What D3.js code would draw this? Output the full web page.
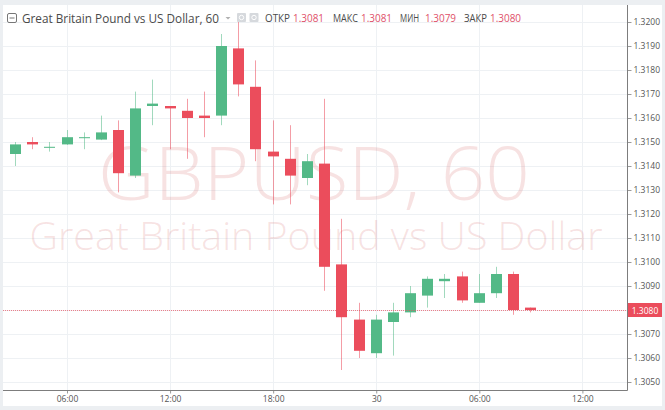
<!DOCTYPE html>
<html>
<head>
<meta charset="utf-8">
<title>GBPUSD, 60</title>
<script src="https://d3js.org/d3.v7.min.js"></script>
<style>
  body { margin: 0; background: #eceff2; }
  svg { display: block; }
</style>
</head>
<body>
<script>
    // hourly candles, 29th 03:00 .. 30th 09:00
    const times = [
        "2018-08-29T03:00", "2018-08-29T04:00", "2018-08-29T05:00", "2018-08-29T06:00",
        "2018-08-29T07:00", "2018-08-29T08:00", "2018-08-29T09:00", "2018-08-29T10:00",
        "2018-08-29T11:00", "2018-08-29T12:00", "2018-08-29T13:00", "2018-08-29T14:00",
        "2018-08-29T15:00", "2018-08-29T16:00", "2018-08-29T17:00", "2018-08-29T18:00",
        "2018-08-29T19:00", "2018-08-29T20:00", "2018-08-29T21:00", "2018-08-29T22:00",
        "2018-08-29T23:00", "2018-08-30T00:00", "2018-08-30T01:00", "2018-08-30T02:00",
        "2018-08-30T03:00", "2018-08-30T04:00", "2018-08-30T05:00", "2018-08-30T06:00",
        "2018-08-30T07:00", "2018-08-30T08:00", "2018-08-30T09:00"
    ]
    const open  = [1.3145, 1.3150, 1.3148, 1.3149, 1.3152, 1.3151, 1.3155, 1.3136,
                   1.3165, 1.3165, 1.3163, 1.3161, 1.3161, 1.3189, 1.3173, 1.3146,
                   1.3143, 1.3135, 1.3141, 1.3099, 1.3076, 1.3062, 1.3075, 1.3079,
                   1.3086, 1.3092, 1.3094, 1.3083, 1.3087, 1.3095, 1.3081]
    const high  = [1.3150, 1.3152, 1.3150, 1.3155, 1.3154, 1.3161, 1.3159, 1.3171,
                   1.3176, 1.3165, 1.3168, 1.3171, 1.3195, 1.3201, 1.3184, 1.3159,
                   1.3157, 1.3145, 1.3168, 1.3118, 1.3083, 1.3078, 1.3083, 1.3090,
                   1.3094, 1.3095, 1.3096, 1.3095, 1.3098, 1.3096, 1.3081]
    const low   = [1.3140, 1.3147, 1.3146, 1.31488, 1.3147, 1.31508, 1.3129, 1.3135,
                   1.3157, 1.3147, 1.3143, 1.3152, 1.3157, 1.3169, 1.3142, 1.3124,
                   1.3124, 1.3132, 1.3088, 1.3055, 1.3060, 1.3060, 1.3061, 1.3077,
                   1.3081, 1.3085, 1.3083, 1.3083, 1.3085, 1.3078, 1.3079]
    const close = [1.3149, 1.3149, 1.3148, 1.3152, 1.3152, 1.3154, 1.3137, 1.3164,
                   1.3166, 1.3164, 1.3160, 1.3160, 1.3190, 1.3174, 1.3147, 1.3144,
                   1.3136, 1.3142, 1.3098, 1.3077, 1.3063, 1.3076, 1.3079, 1.3087,
                   1.3093, 1.3093, 1.3084, 1.3087, 1.3095, 1.3080, 1.3080]
    const priceTicks = [1.3050, 1.3060, 1.3070, 1.3080, 1.3090, 1.3100, 1.3110, 1.3120,
                        1.3130, 1.3140, 1.3150, 1.3160, 1.3170, 1.3180, 1.3190, 1.3200]
    const lastPrice = 1.3080
    const legendLabels = ["ОТКР", "МАКС", "МИН", "ЗАКР"]
    const legendValues = ["1.3081", "1.3081", "1.3079", "1.3080"]

    const W = 665, H = 410
    const plotLeft = 3, plotRight = 627, plotTop = 5, plotBottom = 390
    const up = '#53b987', down = '#eb4d5c'
    const font = '"Open Sans", "DejaVu Sans", sans-serif'

    const parse = d3.utcParse('%Y-%m-%dT%H:%M')
    const candles = times.map((t, i) => ({
        date: parse(t), o: open[i], h: high[i], l: low[i], c: close[i]
    }))

    const svg = d3.select('body').append('svg')
        .attr('width', W)
        .attr('height', H)

    svg.append('rect').attr('width', W).attr('height', H).attr('fill', '#eceff2')
    svg.append('rect')
        .attr('x', plotLeft).attr('y', plotTop)
        .attr('width', 659).attr('height', 401)
        .attr('fill', '#fff')

    // one hour = 17.18px, 06:00 sits at x=67
    const hourPx = 17.18
    const x = d3.scaleUtc()
        .domain([parse('2018-08-29T06:00'), parse('2018-08-29T07:00')])
        .range([67, 67 + hourPx])
    x.domain([x.invert(plotLeft), x.invert(plotRight)]).range([plotLeft, plotRight])

    const y = d3.scaleLinear()
        .domain([1.3050, 1.3200])
        .range([382, 22])

    const timeTicks = x.ticks(d3.utcHour.every(6))
    const fmtTime = d => d.getUTCHours() === 0 ? d3.utcFormat('%-d')(d) : d3.utcFormat('%H:%M')(d)

    // grid
    const grid = svg.append('g').attr('stroke', '#eef1f4').attr('stroke-width', 1)
    grid.selectAll('.hg').data(priceTicks).enter().append('line')
        .attr('x1', plotLeft).attr('x2', plotRight)
        .attr('y1', d => Math.round(y(d)) + 0.5).attr('y2', d => Math.round(y(d)) + 0.5)
    grid.selectAll('.vg').data(timeTicks).enter().append('line')
        .attr('x1', d => Math.round(x(d)) + 0.5).attr('x2', d => Math.round(x(d)) + 0.5)
        .attr('y1', plotTop).attr('y2', plotBottom)

    // watermark
    const wm = svg.append('g')
        .attr('fill', 'rgba(215,110,110,0.2)')
        .attr('font-family', font)
        .attr('font-weight', 300)
        .attr('text-anchor', 'middle')
    wm.append('text')
        .attr('x', 314).attr('y', 200)
        .attr('font-size', 74)
        .attr('textLength', 432)
        .attr('lengthAdjust', 'spacingAndGlyphs')
        .text('GBPUSD, 60')
    wm.append('text')
        .attr('x', 316).attr('y', 250)
        .attr('font-size', 39)
        .attr('textLength', 573)
        .attr('lengthAdjust', 'spacingAndGlyphs')
        .text('Great Britain Pound vs US Dollar')

    // candles
    const bodyW = 11
    const g = svg.append('g')
    const candle = g.selectAll('.candle').data(candles).enter().append('g')
        .attr('fill', d => d.c >= d.o ? up : down)
        .attr('stroke', d => d.c >= d.o ? up : down)
    candle.append('line')
        .attr('x1', d => Math.round(x(d.date) - bodyW / 2) + bodyW / 2)
        .attr('x2', d => Math.round(x(d.date) - bodyW / 2) + bodyW / 2)
        .attr('y1', d => y(d.h))
        .attr('y2', d => y(d.l))
        .attr('stroke-width', 1)
        .attr('stroke-opacity', 0.55)
    candle.append('rect')
        .attr('stroke', 'none')
        .attr('x', d => Math.round(x(d.date) - bodyW / 2))
        .attr('width', bodyW)
        .attr('y', d => y(Math.max(d.o, d.c)))
        .attr('height', d => Math.max(1, y(Math.min(d.o, d.c)) - y(Math.max(d.o, d.c))))

    // last price line
    svg.append('line')
        .attr('x1', plotLeft).attr('x2', plotRight)
        .attr('y1', Math.round(y(lastPrice)) + 0.5).attr('y2', Math.round(y(lastPrice)) + 0.5)
        .attr('stroke', down)
        .attr('stroke-opacity', 0.7)
        .attr('stroke-dasharray', '1,1')

    // price axis
    const yAxis = svg.append('g')
        .attr('transform', 'translate(' + (plotRight + 0.5) + ',0)')
        .call(d3.axisRight(y).tickValues(priceTicks).tickFormat(d3.format('.4f')).tickSize(4).tickSizeOuter(0))
    yAxis.select('.domain').remove()
    yAxis.selectAll('.tick line').attr('stroke', '#9a9a9a')
    yAxis.selectAll('.tick text')
        .attr('x', 6)
        .attr('fill', '#555')
        .attr('font-size', 8.5)
        .attr('font-family', font)
    // the last price badge covers its own tick label
    yAxis.selectAll('.tick').filter(d => Math.abs(d - lastPrice) < 1e-9).select('text').remove()

    const lastY = Math.round(y(lastPrice))
    svg.append('rect')
        .attr('x', plotRight + 1).attr('y', lastY - 7)
        .attr('width', 34).attr('height', 14)
        .attr('fill', down)
    svg.append('text')
        .attr('x', plotRight + 18).attr('y', lastY + 3.5)
        .attr('text-anchor', 'middle')
        .attr('fill', '#fff')
        .attr('font-size', 8.5)
        .attr('font-family', font)
        .text(d3.format('.4f')(lastPrice))

    // time axis
    const xAxis = svg.append('g')
        .attr('transform', 'translate(0,' + (plotBottom + 0.5) + ')')
        .call(d3.axisBottom(x).tickValues(timeTicks).tickFormat(fmtTime).tickSize(3).tickSizeOuter(0))
    xAxis.select('.domain').remove()
    xAxis.selectAll('.tick line').attr('stroke', '#9a9a9a')
    xAxis.selectAll('.tick text')
        .attr('y', 5)
        .attr('fill', '#555')
        .attr('font-size', 8.5)
        .attr('font-family', font)

    // axis frame lines
    svg.append('path')
        .attr('d', 'M' + plotLeft + ',' + (plotBottom + 0.5) + 'H' + (plotRight + 0.5) + 'V' + plotTop)
        .attr('fill', 'none')
        .attr('stroke', '#7d7d7d')
        .attr('stroke-width', 1)

    // header
    const header = svg.append('g').attr('font-family', font)
    header.append('rect')
        .attr('x', 7.5).attr('y', 13.5).attr('width', 9).attr('height', 9)
        .attr('rx', 1.5)
        .attr('fill', 'none').attr('stroke', '#777')
    header.append('line')
        .attr('x1', 9.5).attr('x2', 14.5).attr('y1', 18).attr('y2', 18)
        .attr('stroke', '#777')
    header.append('text')
        .attr('x', 22).attr('y', 23)
        .attr('font-size', 13.5)
        .attr('fill', '#4a4a4a')
        .attr('textLength', 197)
        .attr('lengthAdjust', 'spacingAndGlyphs')
        .text('Great Britain Pound vs US Dollar, 60')
    // dropdown caret
    header.append('path')
        .attr('d', 'M225.5,17H230.5L228,19.5Z')
        .attr('fill', '#b0b0b0')
    ;[237, 249.5].forEach(function (ix) {
        header.append('rect')
            .attr('x', ix).attr('y', 13).attr('width', 9).attr('height', 9)
            .attr('rx', 1).attr('fill', '#d6d9dd')
        header.append('circle')
            .attr('cx', ix + 4.5).attr('cy', 17.5).attr('r', 2.2)
            .attr('fill', 'none').attr('stroke', '#fff').attr('stroke-width', 1)
    })

    const labelX = [265, 333, 400, 464]
    const labelW = [25, 25, 19, 23]
    const valueX = [293, 361, 425, 490]
    legendLabels.forEach(function (lab, i) {
        header.append('text')
            .attr('x', labelX[i]).attr('y', 22)
            .attr('font-size', 11)
            .attr('fill', '#4a4a4a')
            .attr('textLength', labelW[i])
            .attr('lengthAdjust', 'spacingAndGlyphs')
            .text(lab)
        header.append('text')
            .attr('x', valueX[i]).attr('y', 22)
            .attr('font-size', 11.5)
            .attr('fill', '#e0506a')
            .attr('textLength', 31)
            .attr('lengthAdjust', 'spacingAndGlyphs')
            .text(legendValues[i])
    })
</script>
</body>
</html>
